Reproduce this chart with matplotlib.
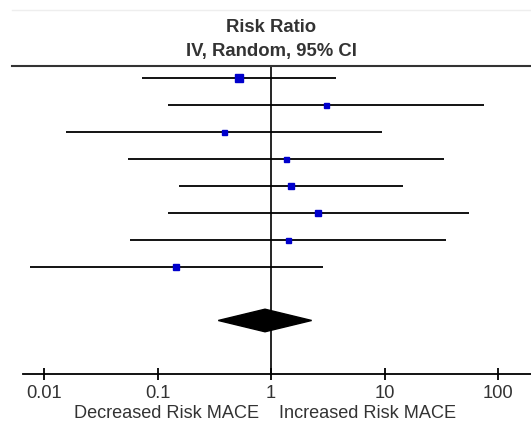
import numpy as np
import matplotlib
matplotlib.use("Agg")
import matplotlib.pyplot as plt

plt.rcParams['font.family'] = ['Liberation Sans', 'DejaVu Sans']

# ---------- data (risk ratio, 95% CI) ----------
rr = [0.52, 3.03, 0.383, 1.35, 1.51, 2.59, 1.41, 0.145]
ci_lo = [0.073, 0.124, 0.0156, 0.055, 0.155, 0.123, 0.0576, 0.0075]
ci_hi = [3.72, 74.8, 9.45, 33.6, 14.6, 55.2, 34.8, 2.85]
weight_size = [5.8, 3.6, 3.6, 3.6, 5.0, 3.8, 3.6, 3.8]  # marker size ~ study weight

pooled = 0.885
pooled_lo = 0.343
pooled_hi = 2.28

ticks = [0.01, 0.1, 1, 10, 100]
tick_labels = ["0.01", "0.1", "1", "10", "100"]

text_col = "#333333"

fig = plt.figure(figsize=(5.31, 4.23), dpi=100)
ax = fig.add_axes([0, 0, 1, 1])
ax.set_xscale("log")
ax.set_xlim(0.00409, 195.4)
ax.set_ylim(12.81, -2.91)

rows = np.arange(len(rr))

# CI lines and study squares
ax.hlines(rows, ci_lo, ci_hi, color="black", lw=1.3, zorder=2)
for y, r, s in zip(rows, rr, weight_size):
    ax.plot(r, y, marker="s", ms=s, color="#0000cc", mec="#0000cc", zorder=3)

# pooled diamond
yd = 9
h = 0.42
ax.fill([pooled_lo, pooled, pooled_hi, pooled], [yd, yd - h, yd, yd + h],
        color="black", zorder=3)

# line of no effect
ax.plot([1, 1], [-0.46, 11], color="black", lw=1.2, zorder=1)

# header lines
ax.plot([0.00522, 195.4], [-0.46, -0.46], color="#333333", lw=1.5, clip_on=False)
ax.plot([0.00522, 195.4], [-2.54, -2.54], color="#eeeeee", lw=1.0, clip_on=False)

ax.text(1, -1.9, "Risk Ratio", ha="center", va="center", fontsize=13.3,
        fontweight="bold", color=text_col)
ax.text(1, -0.98, "IV, Random, 95% CI", ha="center", va="center", fontsize=13.3,
        fontweight="bold", color=text_col)

# bottom axis
for s in ["top", "left", "right"]:
    ax.spines[s].set_visible(False)
ax.spines["bottom"].set_position(("data", 11))
ax.spines["bottom"].set_bounds(0.00653, 195.4)
ax.spines["bottom"].set_linewidth(1.3)
ax.set_xticks(ticks)
ax.set_xticklabels(tick_labels)
ax.xaxis.set_minor_locator(matplotlib.ticker.NullLocator())
ax.tick_params(axis="x", direction="inout", length=8, width=1.3,
               labelsize=13.2, labelcolor=text_col, pad=3.5)
ax.set_yticks([])
ax.patch.set_visible(False)

ax.text(0.79, 12.47, "Decreased Risk MACE", ha="right", va="center",
        fontsize=13.1, color=text_col)
ax.text(1.17, 12.47, "Increased Risk MACE", ha="left", va="center",
        fontsize=13.1, color=text_col)

fig.savefig("out.png", dpi=100)
